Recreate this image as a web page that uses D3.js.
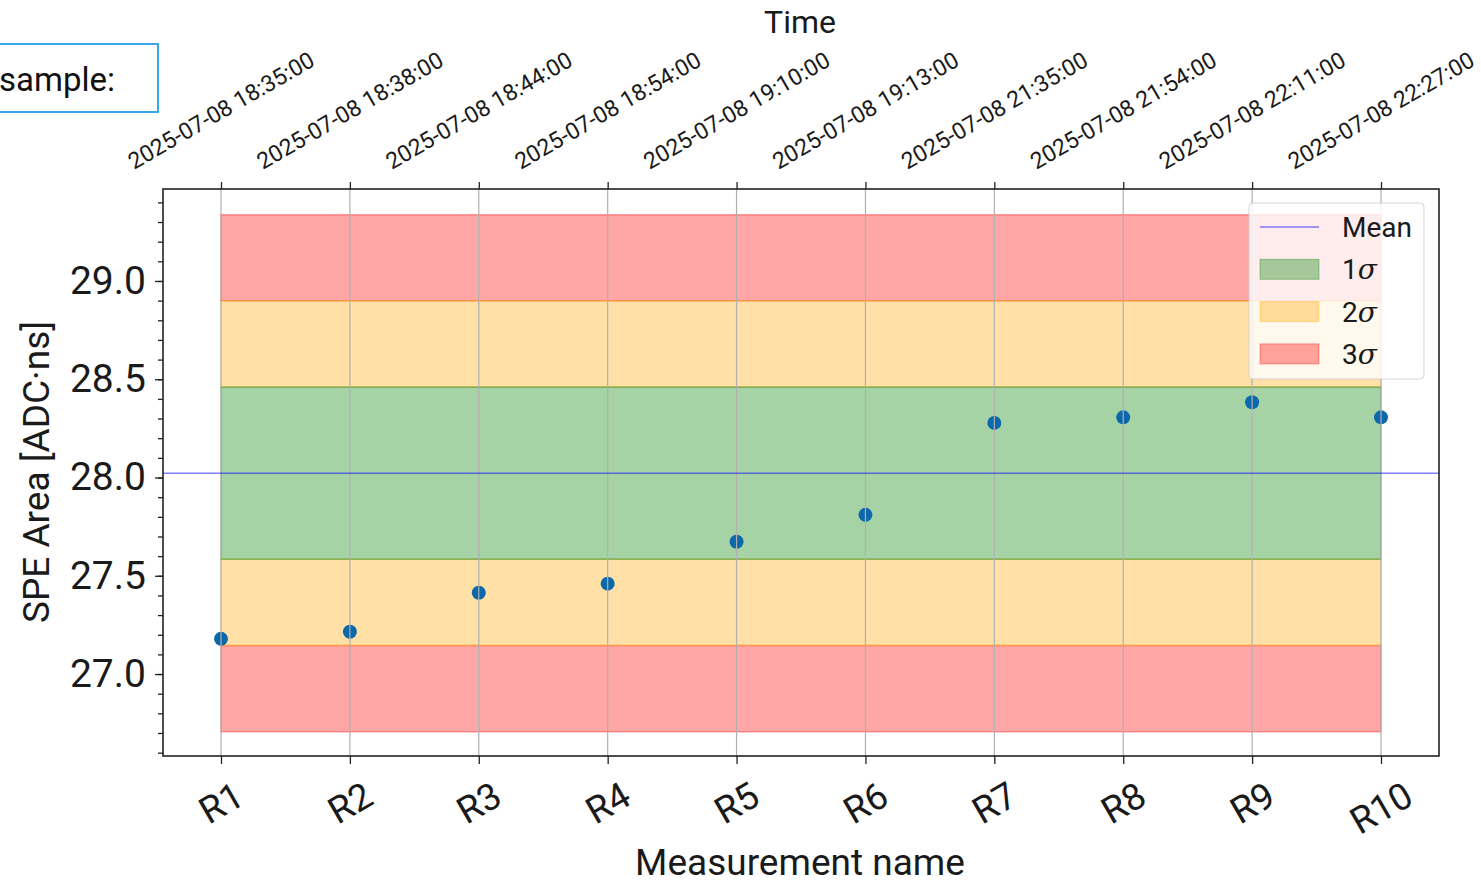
<!DOCTYPE html>
<html>
<head>
<meta charset="utf-8">
<script src="https://cdn.jsdelivr.net/npm/d3@7"></script>
<style>
  body { margin: 0; background: #fff; }
  svg { display: block; }
  svg text { font-family: 'Roboto', sans-serif; }
</style>
</head>
<body>
<div id="chart"></div>
<script>
// measurement runs and their SPE area values
var runNames = ['R1', 'R2', 'R3', 'R4', 'R5', 'R6', 'R7', 'R8', 'R9', 'R10'];
var runTimes = ['2025-07-08 18:35:00', '2025-07-08 18:38:00', '2025-07-08 18:44:00', '2025-07-08 18:54:00',
  '2025-07-08 19:10:00', '2025-07-08 19:13:00', '2025-07-08 21:35:00', '2025-07-08 21:54:00',
  '2025-07-08 22:11:00', '2025-07-08 22:27:00'];
var speArea = [27.179, 27.215, 27.414, 27.46, 27.673, 27.81, 28.278, 28.306, 28.383, 28.306];
var refMean = 28.022;
var refSigma = 0.4385;
var yTicks = [27.0, 27.5, 28.0, 28.5, 29.0];
var legendLabels = ['Mean', '1', '2', '3'];

var W = 1481, H = 883;
var margin = { top: 189, right: 42, bottom: 127, left: 163 };
var plotW = W - margin.left - margin.right,
  plotH = H - margin.top - margin.bottom;

var svg = d3.select('#chart').append('svg')
  .attr('width', W)
  .attr('height', H);

var x = d3.scaleLinear().domain([-0.45, runNames.length - 1 + 0.45]).range([0, plotW]);
var y = d3.scaleLinear().domain([26.583, 29.468]).range([plotH, 0]);

var g = svg.append('g')
  .attr('transform', 'translate(' + margin.left + ',' + margin.top + ')');

// sigma bands: [low, high, colour]
var bands = [
  [refMean + 2 * refSigma, refMean + 3 * refSigma, '#ff0000'],
  [refMean - 3 * refSigma, refMean - 2 * refSigma, '#ff0000'],
  [refMean + refSigma, refMean + 2 * refSigma, '#ffa500'],
  [refMean - 2 * refSigma, refMean - refSigma, '#ffa500'],
  [refMean - refSigma, refMean + refSigma, '#008000']
];
var area = d3.area()
  .x(function(d) { return x(d.i); })
  .y0(function(d) { return y(d.lo); })
  .y1(function(d) { return y(d.hi); });

bands.forEach(function(b) {
  var pts = [{ i: 0, lo: b[0], hi: b[1] }, { i: runNames.length - 1, lo: b[0], hi: b[1] }];
  g.append('path')
    .datum(pts)
    .attr('d', area)
    .attr('fill', b[2])
    .attr('fill-opacity', 0.35)
    .attr('stroke', b[2])
    .attr('stroke-opacity', 0.35)
    .attr('stroke-width', 1.5);
});

// points
g.selectAll('.pt')
  .data(speArea)
  .enter()
  .append('circle')
  .attr('class', 'pt')
  .attr('cx', function(d, i) { return x(i); })
  .attr('cy', function(d) { return y(d); })
  .attr('r', 7)
  .attr('fill', '#0b69ab');

// vertical grid
g.selectAll('.grid')
  .data(runNames)
  .enter()
  .append('line')
  .attr('x1', function(d, i) { return x(i); })
  .attr('x2', function(d, i) { return x(i); })
  .attr('y1', 0)
  .attr('y2', plotH)
  .attr('stroke', '#b0b0b0')
  .attr('stroke-width', 1.2);

// mean line spans whole axes
g.append('line')
  .attr('x1', 0)
  .attr('x2', plotW)
  .attr('y1', y(refMean))
  .attr('y2', y(refMean))
  .attr('stroke', '#0000ff')
  .attr('stroke-opacity', 0.5)
  .attr('stroke-width', 1.5);

// axes
var yAxis = d3.axisLeft(y).tickValues(yTicks).tickFormat(d3.format('.1f')).tickSize(8).tickPadding(9);
var yMinor = d3.axisLeft(y).tickValues(d3.range(26.6, 29.45, 0.1)).tickFormat('').tickSize(5);
var xBottom = d3.axisBottom(x).tickValues(d3.range(runNames.length)).tickFormat('').tickSize(8);
var xTop = d3.axisTop(x).tickValues(d3.range(runNames.length)).tickFormat('').tickSize(7);

g.append('g').attr('class', 'ax').call(yMinor);
g.append('g').attr('class', 'ax').call(yAxis)
  .selectAll('text')
  .attr('font-family', 'Roboto')
  .attr('font-size', '39px')
  .attr('fill', '#1a1a1a');
g.append('g').attr('class', 'ax').attr('transform', 'translate(0,' + plotH + ')').call(xBottom);
g.append('g').attr('class', 'ax').call(xTop);
g.selectAll('.ax .domain').remove();
g.selectAll('.ax line').attr('stroke', '#222').attr('stroke-width', 1.3);

g.append('rect')
  .attr('width', plotW)
  .attr('height', plotH)
  .attr('fill', 'none')
  .attr('stroke', '#222')
  .attr('stroke-width', 1.6);

// rotated tick labels, centred on the tick like matplotlib
var ang = 30, rad = ang * Math.PI / 180;
function rotatedLabels(labels, fs, edgeY, below) {
  labels.forEach(function(lab, i) {
    var t = svg.append('text')
      .attr('font-family', 'Roboto')
      .attr('font-size', fs + 'px')
      .attr('fill', '#1a1a1a')
      .attr('text-anchor', 'middle')
      .attr('dy', '0.36em')
      .text(lab);
    var w = t.node().getComputedTextLength();
    var ext = w * Math.sin(rad) + fs * 0.72 * Math.cos(rad);
    var cy = below ? edgeY + ext / 2 : edgeY - ext / 2;
    t.attr('transform', 'translate(' + (margin.left + x(i)) + ',' + cy + ') rotate(' + (-ang) + ')');
  });
}
rotatedLabels(runNames, 37, 780, true);
rotatedLabels(runTimes, 23, 170, false);

// axis titles
svg.append('text')
  .attr('x', 800)
  .attr('y', 875)
  .attr('text-anchor', 'middle')
  .attr('font-family', 'Roboto')
  .attr('font-size', '37px')
  .attr('fill', '#1a1a1a')
  .text('Measurement name');

svg.append('text')
  .attr('x', 800)
  .attr('y', 33)
  .attr('text-anchor', 'middle')
  .attr('font-family', 'Roboto')
  .attr('font-size', '32px')
  .attr('fill', '#1a1a1a')
  .text('Time');

svg.append('text')
  .attr('transform', 'translate(36,472) rotate(-90)')
  .attr('text-anchor', 'middle')
  .attr('dy', '0.36em')
  .attr('font-family', 'Roboto')
  .attr('font-size', '37px')
  .attr('fill', '#1a1a1a')
  .text('SPE Area [ADC\u00b7ns]');

// legend
var leg = svg.append('g').attr('transform', 'translate(1249,203)');
leg.append('rect')
  .attr('width', 175)
  .attr('height', 176)
  .attr('rx', 4)
  .attr('fill', '#fff')
  .attr('fill-opacity', 0.8)
  .attr('stroke', '#cccccc')
  .attr('stroke-opacity', 0.8);
var legColors = ['#0000ff', '#008000', '#ffa500', '#ff0000'];
legendLabels.forEach(function(lab, i) {
  var cy = 24 + i * 42.3;
  if (i === 0) {
    leg.append('line')
      .attr('x1', 11).attr('x2', 70)
      .attr('y1', cy).attr('y2', cy)
      .attr('stroke', legColors[i])
      .attr('stroke-opacity', 0.5)
      .attr('stroke-width', 1.5);
  } else {
    leg.append('rect')
      .attr('x', 11).attr('y', cy - 10)
      .attr('width', 59).attr('height', 20)
      .attr('fill', legColors[i])
      .attr('fill-opacity', 0.35)
      .attr('stroke', legColors[i])
      .attr('stroke-opacity', 0.35);
  }
  var t = leg.append('text')
    .attr('x', 93)
    .attr('y', cy + 10)
    .attr('font-family', 'Roboto')
    .attr('font-size', '28px')
    .attr('fill', '#1a1a1a')
    .text(lab);
  if (i > 0) {
    t.append('tspan')
      .attr('font-family', 'DejaVu Serif')
      .attr('font-style', 'italic')
      .text('\u03c3');
  }
});

// "sample:" text box in the corner
svg.append('rect')
  .attr('x', -2)
  .attr('y', 44)
  .attr('width', 160)
  .attr('height', 68)
  .attr('fill', '#fff')
  .attr('stroke', '#3aa6e6')
  .attr('stroke-width', 2);
svg.append('text')
  .attr('x', -1)
  .attr('y', 91)
  .attr('font-family', 'Inter, sans-serif')
  .attr('font-size', '33px')
  .attr('fill', '#111')
  .text('sample:');
</script>
</body>
</html>
